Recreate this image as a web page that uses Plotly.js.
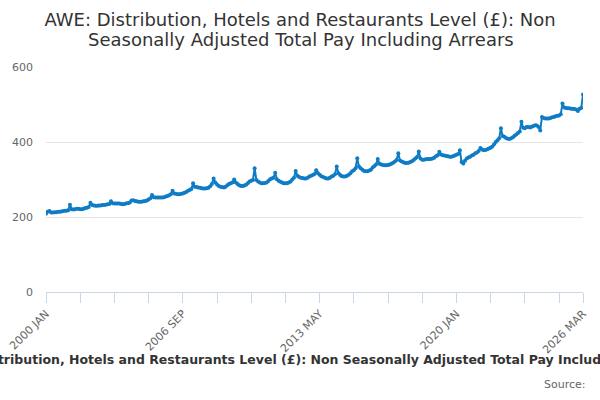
<!DOCTYPE html>
<html>
<head>
<meta charset="utf-8">
<script src="https://cdn.plot.ly/plotly-3.0.1.min.js"></script>
<style>
  html, body { margin: 0; padding: 0; background: #fff; }
  #chart { width: 600px; height: 400px; }
</style>
</head>
<body>
<div id="chart"></div>
<script>
var months = ['JAN', 'FEB', 'MAR', 'APR', 'MAY', 'JUN', 'JUL', 'AUG', 'SEP', 'OCT', 'NOV', 'DEC'];
var firstYear = 2000;

// average weekly earnings, £, one array per year (Jan..Dec)
var y2000 = [209, 214, 216, 212, 212, 213, 213, 214, 214, 215, 216, 217];
var y2001 = [217, 218, 233, 221, 220, 221, 222, 222, 221, 221, 222, 224];
var y2002 = [225, 227, 238, 232, 231, 230, 230, 231, 231, 232, 232, 233];
var y2003 = [234, 235, 242, 237, 236, 236, 236, 236, 235, 234, 235, 237];
var y2004 = [237, 239, 244, 245, 243, 242, 241, 241, 241, 242, 243, 244];
var y2005 = [247, 250, 259, 253, 252, 252, 252, 252, 252, 253, 255, 256];
var y2006 = [258, 261, 270, 263, 262, 261, 261, 262, 263, 265, 267, 270];
var y2007 = [272, 275, 290, 281, 280, 279, 278, 277, 276, 276, 277, 278];
var y2008 = [282, 288, 303, 292, 287, 283, 281, 280, 279, 281, 285, 288];
var y2009 = [290, 292, 300, 292, 288, 285, 283, 283, 284, 286, 290, 295];
var y2010 = [297, 299, 330, 299, 295, 292, 290, 290, 291, 292, 296, 301];
var y2011 = [303, 305, 318, 301, 297, 294, 292, 290, 290, 290, 292, 295];
var y2012 = [300, 305, 323, 310, 307, 305, 304, 303, 303, 305, 308, 310];
var y2013 = [312, 315, 325, 317, 313, 309, 307, 305, 303, 303, 305, 308];
var y2014 = [310, 314, 335, 317, 312, 309, 308, 308, 310, 313, 317, 322];
var y2015 = [325, 330, 357, 335, 330, 326, 323, 322, 322, 324, 326, 332];
var y2016 = [336, 340, 355, 342, 340, 339, 338, 338, 339, 340, 342, 345];
var y2017 = [348, 352, 370, 351, 348, 346, 344, 344, 345, 347, 349, 352];
var y2018 = [356, 360, 375, 356, 353, 353, 354, 355, 355, 355, 356, 358];
var y2019 = [362, 365, 374, 367, 365, 364, 363, 362, 361, 361, 362, 364];
var y2020 = [366, 368, 378, 347, 343, 350, 356, 359, 361, 364, 366, 370];
var y2021 = [372, 376, 384, 380, 378, 379, 381, 383, 385, 388, 394, 400];
var y2022 = [405, 410, 437, 416, 414, 411, 409, 408, 410, 413, 417, 420];
var y2023 = [424, 428, 454, 438, 437, 440, 440, 439, 441, 443, 445, 444];
var y2024 = [440, 431, 467, 464, 463, 463, 463, 464, 466, 467, 469, 470];
var y2025 = [471, 474, 503, 492, 491, 490, 490, 489, 489, 488, 487, 483];
var y2026 = [489, 491, 527];

var years = [y2000, y2001, y2002, y2003, y2004, y2005, y2006, y2007, y2008, y2009,
  y2010, y2011, y2012, y2013, y2014, y2015, y2016, y2017, y2018, y2019,
  y2020, y2021, y2022, y2023, y2024, y2025, y2026];

var x = [];
var y = [];
years.forEach(function (vals, k) {
  vals.forEach(function (v, m) {
    x.push((firstYear + k) + ' ' + months[m]);
    y.push(v);
  });
});

// a tick every 20 months, labelled every 80, plus the last month
var tickvals = [];
var ticktext = [];
for (var i = 0; i < x.length; i += 20) {
  tickvals.push(x[i]);
  ticktext.push(i % 80 === 0 ? x[i] : '');
}
tickvals.push(x[x.length - 1]);
ticktext.push(x[x.length - 1]);

var blue = '#0f7cc4';

var trace = {
  x: x,
  y: y,
  mode: 'lines+markers',
  type: 'scatter',
  line: {color: blue, width: 2},
  marker: {color: blue, size: 4},
  hoverinfo: 'x+y'
};

var titleLine1 = 'AWE: Distribution, Hotels and Restaurants Level (£): Non';
var titleLine2 = 'Seasonally Adjusted Total Pay Including Arrears';

var layout = {
  width: 600,
  height: 400,
  margin: {l: 46, r: 17, t: 67, b: 108, pad: 0},
  paper_bgcolor: '#ffffff',
  plot_bgcolor: '#ffffff',
  font: {family: 'DejaVu Sans, sans-serif', color: '#666666', size: 11},
  showlegend: false,
  title: {
    text: titleLine1,
    font: {size: 18, color: '#333333'},
    x: 0.5,
    xanchor: 'center',
    y: 0.95,
    yanchor: 'middle'
  },
  xaxis: {
    type: 'category',
    range: [0, x.length - 1],
    tickmode: 'array',
    tickvals: tickvals,
    ticktext: ticktext,
    tickangle: -45,
    ticks: 'outside',
    ticklen: 10,
    tickcolor: '#ccd6eb',
    showline: true,
    linecolor: '#ccd6eb',
    linewidth: 1,
    showgrid: false,
    zeroline: false,
    tickfont: {size: 11, color: '#666666'}
  },
  yaxis: {
    range: [0, 600],
    tickvals: [0, 200, 400, 600],
    showgrid: true,
    gridcolor: '#e6e6e6',
    zeroline: false,
    showline: false,
    ticklabelstandoff: 12,
    tickfont: {size: 11, color: '#666666'}
  },
  annotations: [
    {
      text: titleLine2,
      xref: 'paper', yref: 'paper',
      x: 0.474, y: 1.12,
      xanchor: 'center', yanchor: 'middle',
      showarrow: false,
      font: {size: 18, color: '#333333'}
    },
    {
      text: '<b>' + titleLine1 + ' ' + titleLine2 + '</b>',
      xref: 'paper', yref: 'paper',
      x: 0.487, y: -0.302,
      xanchor: 'center', yanchor: 'middle',
      showarrow: false,
      font: {size: 12.5, color: '#333333'}
    },
    {
      text: 'Source:',
      xref: 'paper', yref: 'paper',
      x: 1.009, y: -0.409,
      xanchor: 'right', yanchor: 'middle',
      showarrow: false,
      font: {size: 11, color: '#666666'}
    }
  ]
};

Plotly.newPlot('chart', [trace], layout, {displayModeBar: false, staticPlot: true});
</script>
</body>
</html>
